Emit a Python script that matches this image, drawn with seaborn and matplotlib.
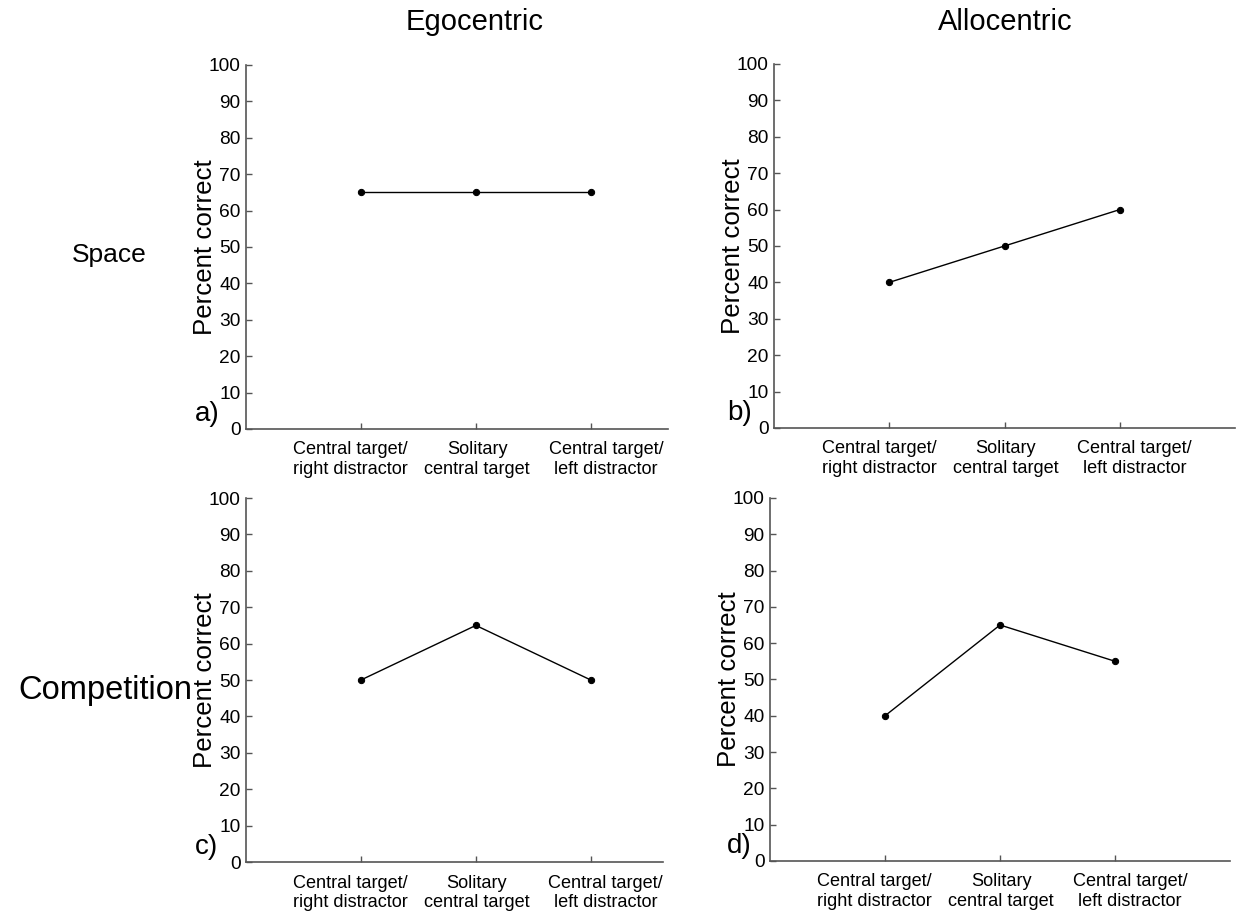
import pandas as pd
import numpy as np
import seaborn as sns
import matplotlib.pyplot as plt

# --- data ---
conditions = ['Central target/\nright distractor', 'Solitary\ncentral target', 'Central target/\nleft distractor']
ego_space = [65, 65, 65]
allo_space = [40, 50, 60]
ego_comp = [50, 65, 50]
allo_comp = [40, 65, 55]
yticks = list(range(0, 101, 10))

sns.set_style('ticks')
plt.rcParams['font.family'] = ['Liberation Sans', 'DejaVu Sans']
plt.rcParams['text.color'] = 'black'
plt.rcParams['axes.labelcolor'] = 'black'
plt.rcParams['xtick.labelcolor'] = 'black'
plt.rcParams['ytick.labelcolor'] = 'black'

W, H = 1238, 918
fig = plt.figure(figsize=(W / 100, H / 100), dpi=100)

# axes boxes in figure fractions, x limit, letter x position (px)
panels = [
    ('a)', ego_space,  [0.1987, 0.5327, 0.3410, 0.3965], 3.67, 195),
    ('b)', allo_space, [0.6252, 0.5338, 0.3724, 0.3965], 4.0, 727),
    ('c)', ego_comp,   [0.1987, 0.0610, 0.3370, 0.3965], 3.63, 195),
    ('d)', allo_comp,  [0.6220, 0.0621, 0.3716, 0.3955], 4.0, 727),
]
# the outer condition labels sit a bit away from their ticks (in category units)
label_shift = [-0.09, 0.01, 0.13]

axis_col = '#555555'
for letter, vals, box, xmax, lx in panels:
    ax = fig.add_axes(box)
    df = pd.DataFrame({'x': [1, 2, 3], 'y': vals})
    sns.lineplot(data=df, x='x', y='y', ax=ax, color='black', linewidth=1.0,
                 marker='o', markersize=4.5, markeredgecolor='black')
    ax.set_xlim(0, xmax)
    ax.set_ylim(0, 100)
    ax.set_yticks(yticks)
    ax.set_yticklabels([str(t) for t in yticks], fontsize=13.8)
    # tick marks on the categories, labels on invisible minor ticks
    ax.set_xticks([1, 2, 3])
    ax.set_xticklabels([])
    ax.set_xticks([i + 1 + d for i, d in enumerate(label_shift)], minor=True)
    ax.set_xticklabels(conditions, minor=True, fontsize=13.1)
    ax.tick_params(axis='both', direction='in', length=4, width=1, color=axis_col)
    ax.tick_params(axis='y', pad=4)
    ax.tick_params(axis='x', which='minor', length=0, pad=9)
    for s in ['top', 'right']:
        ax.spines[s].set_visible(False)
    for s in ['left', 'bottom']:
        ax.spines[s].set_color(axis_col)
        ax.spines[s].set_linewidth(1.2)
    ax.set_xlabel('')
    ax.set_ylabel('Percent correct', fontsize=18.6, labelpad=-6)
    ax.text(lx / W, box[1] + 0.002, letter, transform=fig.transFigure, fontsize=20,
            ha='left', va='bottom')

fig.text(475 / W, 1 - 22 / H, 'Egocentric', fontsize=21, ha='center', va='center')
fig.text(1005 / W, 1 - 22 / H, 'Allocentric', fontsize=21, ha='center', va='center')
fig.text(109 / W, 1 - 255 / H, 'Space', fontsize=19, ha='center', va='center')
fig.text(105 / W, 1 - 690 / H, 'Competition', fontsize=23.5, ha='center', va='center')

fig.savefig('out.png', dpi=100)
